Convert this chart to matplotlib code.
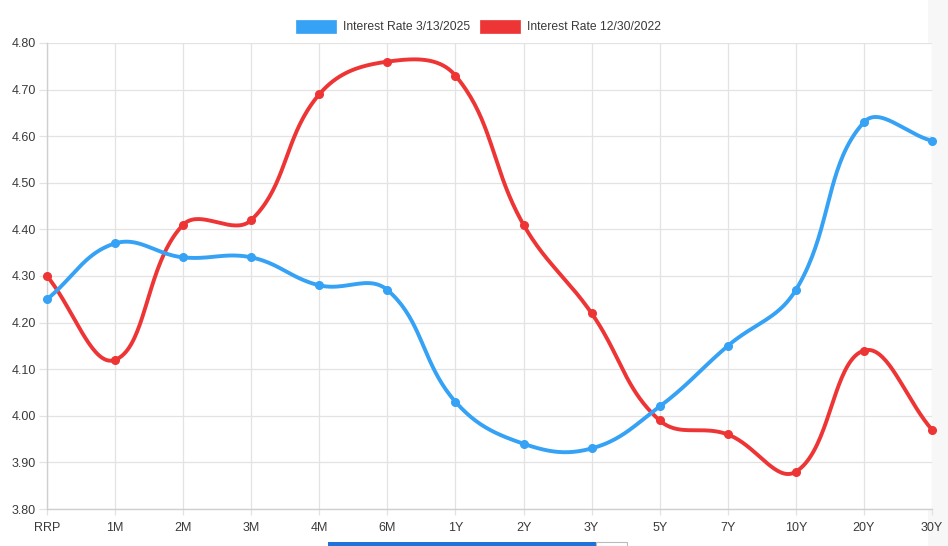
import numpy as np
import matplotlib
matplotlib.use("Agg")
import matplotlib.pyplot as plt
from matplotlib.patches import Rectangle

plt.rcParams['font.family'] = ['Liberation Sans', 'DejaVu Sans']

# tenors and yields
tenors = ['RRP', '1M', '2M', '3M', '4M', '6M', '1Y', '2Y', '3Y', '5Y', '7Y', '10Y', '20Y', '30Y']
rate_2025 = [4.25, 4.37, 4.34, 4.34, 4.28, 4.27, 4.03, 3.94, 3.93, 4.02, 4.15, 4.27, 4.63, 4.59]
rate_2022 = [4.30, 4.12, 4.41, 4.42, 4.69, 4.76, 4.73, 4.41, 4.22, 3.99, 3.96, 3.88, 4.14, 3.97]
label_2025 = 'Interest Rate 3/13/2025'
label_2022 = 'Interest Rate 12/30/2022'

blue = '#36a2f5'
red = '#ee3535'
grid_col = '#e3e3e3'
text_col = '#3a3a3a'

W, H = 948, 546
fig = plt.figure(figsize=(W / 100, H / 100), dpi=100)


def fx(px):
    return px / W


def fy(py):
    return 1 - py / H


left, right, top, bottom = 47, 932, 43, 509
ax = fig.add_axes([fx(left), fy(bottom), fx(right) - fx(left), fy(top) - fy(bottom)])
ax.set_xlim(0, len(tenors) - 1)
ax.set_ylim(3.80, 4.80)


def spline(xs, ys, tension=0.4, n=40):
    # chart.js style cubic bezier through the points, computed in pixel space
    pts = ax.transData.transform(np.column_stack([xs, ys]))
    bb = ax.bbox
    out = [pts[0]]
    m = len(pts)
    cps = []
    for i in range(m):
        prev = pts[max(i - 1, 0)]
        cur = pts[i]
        nxt = pts[min(i + 1, m - 1)]
        d01 = np.hypot(*(cur - prev))
        d12 = np.hypot(*(nxt - cur))
        tot = d01 + d12
        s01 = d01 / tot if tot else 0
        s12 = d12 / tot if tot else 0
        c1 = cur - tension * s01 * (nxt - prev)
        c2 = cur + tension * s12 * (nxt - prev)
        for c in (c1, c2):
            c[0] = min(max(c[0], bb.x0), bb.x1)
            c[1] = min(max(c[1], bb.y0), bb.y1)
        cps.append((c1, c2))
    t = np.linspace(0, 1, n)[1:, None]
    for i in range(m - 1):
        p0, p3 = pts[i], pts[i + 1]
        p1, p2 = cps[i][1], cps[i + 1][0]
        seg = ((1 - t) ** 3) * p0 + 3 * ((1 - t) ** 2) * t * p1 + 3 * (1 - t) * t ** 2 * p2 + t ** 3 * p3
        out.extend(seg)
    out = ax.transData.inverted().transform(np.array(out))
    return out[:, 0], out[:, 1]


x = np.arange(len(tenors))
for vals, col in [(rate_2022, red), (rate_2025, blue)]:
    sx, sy = spline(x, vals)
    ax.plot(sx, sy, color=col, lw=2.8, solid_capstyle='round', zorder=3, clip_on=False)
    ax.plot(x, vals, 'o', color=col, ms=5.5, zorder=4, clip_on=False)

ax.set_xticks(x)
ax.set_xticklabels(tenors)
ax.set_yticks(np.arange(3.80, 4.81, 0.10))
ax.set_yticklabels([f'{v:.2f}' for v in np.arange(3.80, 4.81, 0.10)])
ax.grid(True, color=grid_col, lw=0.9)
ax.set_axisbelow(True)
for s in ['top', 'right']:
    ax.spines[s].set_visible(False)
for s in ['left', 'bottom']:
    ax.spines[s].set_color('#cfcfcf')
    ax.spines[s].set_linewidth(1.0)
ax.tick_params(axis='y', length=5.8, width=0.9, color=grid_col, labelsize=9,
               labelcolor=text_col, pad=2.2)
ax.tick_params(axis='x', length=4, width=0.9, color=grid_col, labelsize=9,
               labelcolor=text_col, pad=5.5)

# legend drawn by hand, in pixel positions
for bx, tx, col, lab in [(296, 343, blue, label_2025), (480, 527, red, label_2022)]:
    fig.add_artist(Rectangle((fx(bx), fy(33)), fx(40), 13 / H, transform=fig.transFigure,
                             facecolor=col, edgecolor=col, lw=0.5))
    fig.text(fx(tx), fy(27), lab, fontsize=8.7, color=text_col, va='center', ha='left')

# page leftovers around the chart
fig.add_artist(Rectangle((fx(928), 0), fx(20), 1, transform=fig.transFigure,
                         facecolor='#f7f7f7', edgecolor='none', zorder=-1))
fig.add_artist(Rectangle((fx(328), 0), fx(268), 4 / H, transform=fig.transFigure,
                         facecolor='#1f72d8', edgecolor='none'))
fig.add_artist(Rectangle((fx(596), 0), fx(31), 4 / H, transform=fig.transFigure,
                         facecolor='white', edgecolor='#bbbbbb', lw=0.8))

fig.savefig('out.png', dpi=100)
